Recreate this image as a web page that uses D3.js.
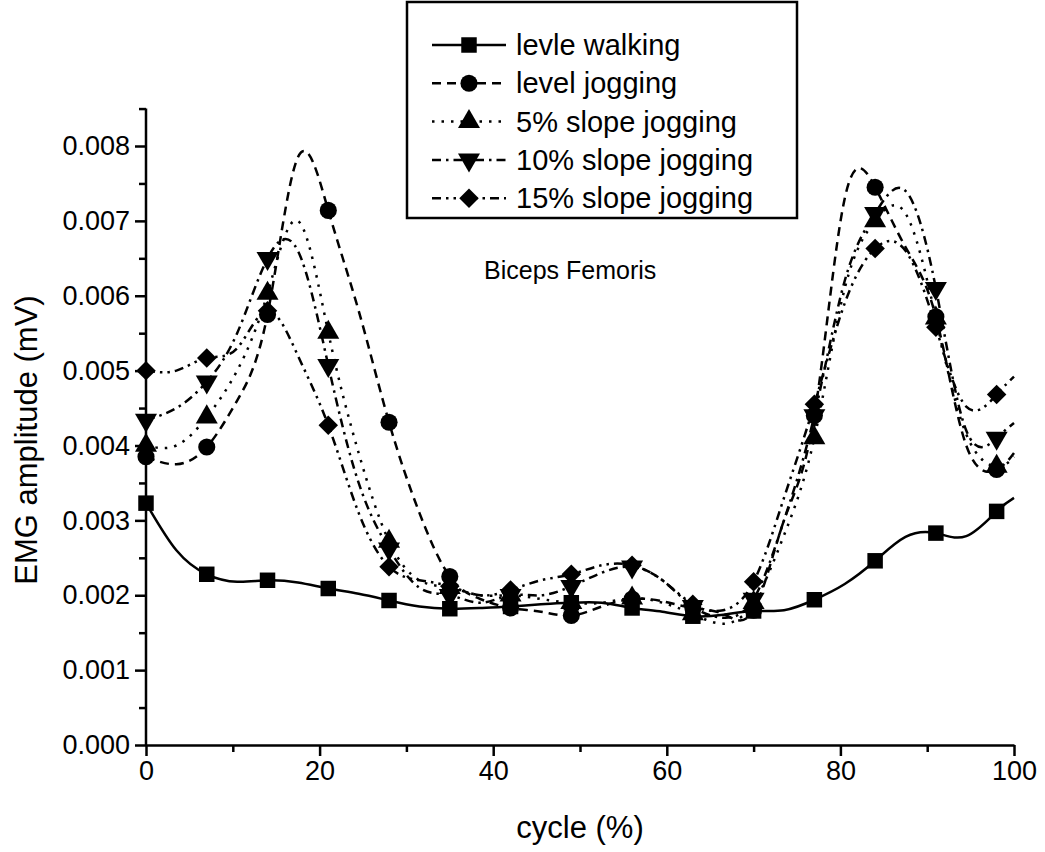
<!DOCTYPE html>
<html lang="en">
<head>
    <meta charset="UTF-8">
    <script src="https://d3js.org/d3.v7.min.js" charset="utf-8"></script>
    <title>Biceps Femoris</title>
    <style>
        body { margin: 0; background: #fff; }
        text { font-family: "Liberation Sans", Arial, sans-serif; fill: #000; }
    </style>
</head>
<body>
    <div id="chart"></div>
    <script>
        // data (cycle %, EMG amplitude in mV)
        // lines are sampled every 3.5 %, symbols sit on every 7 %
        const cycle = [0, 3.5, 7, 10.5, 14, 17.5, 21, 24.5, 28, 31.5, 35, 38.5, 42, 45.5, 49, 52.5, 56, 59.5, 63, 66.5, 70, 73.5, 77, 80.5, 84, 87.5, 91, 94.5, 98, 100];
        const levelWalking = [0.00323, 0.00260, 0.00228, 0.00218, 0.00220, 0.00217, 0.00209, 0.00202, 0.00193, 0.00185, 0.00182, 0.00183, 0.00185, 0.00188, 0.00190, 0.00190, 0.00183, 0.00178, 0.00172, 0.00174, 0.00179, 0.00180, 0.00194, 0.00215, 0.00246, 0.00278, 0.00283, 0.00279, 0.00312, 0.00330];
        const levelJogging = [0.00385, 0.00375, 0.00398, 0.00460, 0.00575, 0.00785, 0.00714, 0.00580, 0.00431, 0.00310, 0.00225, 0.00195, 0.00183, 0.00178, 0.00173, 0.00185, 0.00195, 0.00192, 0.00183, 0.00175, 0.00180, 0.00300, 0.00440, 0.00730, 0.00745, 0.00665, 0.00572, 0.00400, 0.00368, 0.00390];
        const slope5 = [0.00400, 0.00400, 0.00438, 0.00500, 0.00603, 0.00700, 0.00551, 0.00390, 0.00272, 0.00220, 0.00210, 0.00200, 0.00200, 0.00195, 0.00190, 0.00190, 0.00196, 0.00190, 0.00175, 0.00162, 0.00190, 0.00280, 0.00410, 0.00610, 0.00700, 0.00710, 0.00570, 0.00415, 0.00372, 0.00385];
        const slope10 = [0.00434, 0.00450, 0.00485, 0.00550, 0.00650, 0.00660, 0.00507, 0.00350, 0.00262, 0.00210, 0.00200, 0.00190, 0.00200, 0.00200, 0.00212, 0.00230, 0.00238, 0.00220, 0.00185, 0.00170, 0.00195, 0.00300, 0.00440, 0.00620, 0.00710, 0.00740, 0.00610, 0.00420, 0.00410, 0.00430];
        const slope15 = [0.00500, 0.00500, 0.00517, 0.00530, 0.00580, 0.00520, 0.00427, 0.00310, 0.00238, 0.00220, 0.00212, 0.00200, 0.00207, 0.00220, 0.00228, 0.00240, 0.00240, 0.00220, 0.00188, 0.00180, 0.00218, 0.00330, 0.00455, 0.00590, 0.00663, 0.00660, 0.00558, 0.00452, 0.00468, 0.00492];
        const seriesNames = ["levle walking", "level jogging", "5% slope jogging", "10% slope jogging", "15% slope jogging"];
        const xTicks = [0, 20, 40, 60, 80, 100];
        const yTicks = [0, 0.001, 0.002, 0.003, 0.004, 0.005, 0.006, 0.007, 0.008];

        const width = 1045, height = 852;
        const margin = { left: 146, right: 31, bottom: 107 };

        const x = d3.scaleLinear().domain([0, 100]).range([margin.left, width - margin.right]);
        const y = d3.scaleLinear().domain([0, 0.008]).range([height - margin.bottom, 146]);

        const svg = d3.select("#chart").append("svg")
            .attr("width", width)
            .attr("height", height);

        const styles = [
            { values: levelWalking, dash: null, symbol: d3.symbolSquare, size: 240, rotate: 0 },
            { values: levelJogging, dash: "9,6", symbol: d3.symbolCircle, size: 230, rotate: 0 },
            { values: slope5, dash: "2.5,7", symbol: d3.symbolTriangle, size: 210, rotate: 0 },
            { values: slope10, dash: "9,5,2.5,5", symbol: d3.symbolTriangle, size: 210, rotate: 180 },
            { values: slope15, dash: "9,5,2.5,5,2.5,5", symbol: d3.symbolSquare, size: 190, rotate: 45 }
        ];

        const line = d3.line()
            .x(d => x(d[0]))
            .y(d => y(d[1]))
            .curve(d3.curveNatural);

        // axes
        const xAxis = d3.axisBottom(x).tickValues(d3.range(0, 101, 10))
            .tickFormat(d => xTicks.includes(d) ? d : "").tickSizeOuter(0);
        const gx = svg.append("g").attr("transform", `translate(0,${y(0)})`).call(xAxis);
        gx.selectAll(".tick line").attr("y2", d => xTicks.includes(d) ? 11 : 7);
        gx.selectAll(".tick text").attr("y", 16).style("font-size", "27px");

        const yAxis = d3.axisLeft(y).tickValues(d3.range(0, 0.0086, 0.0005))
            .tickFormat(d => yTicks.some(t => Math.abs(t - d) < 1e-9) ? d3.format(".3f")(d) : "")
            .tickSizeOuter(0);
        const gy = svg.append("g").attr("transform", `translate(${x(0)},0)`).call(yAxis);
        gy.selectAll(".tick line").attr("x2", (d, i) => i % 2 === 0 ? -11 : -7);
        gy.selectAll(".tick text").attr("x", -16).style("font-size", "27px");
        gy.select(".domain").attr("d", `M0,${y(0)}V${y(0.0085)}`);

        svg.selectAll(".domain, .tick line").attr("stroke", "#000").attr("stroke-width", 2.5);
        svg.selectAll(".tick text").attr("fill", "#000").style("font-family", "Liberation Sans, Arial, sans-serif");

        // axis titles
        svg.append("text")
            .attr("x", x(50)).attr("y", 838)
            .attr("text-anchor", "middle")
            .style("font-size", "31px")
            .text("cycle (%)");
        svg.append("text")
            .attr("transform", `translate(37,${440}) rotate(-90)`)
            .attr("text-anchor", "middle")
            .style("font-size", "31px")
            .text("EMG amplitude (mV)");

        // series
        styles.forEach(s => {
            const pts = cycle.map((c, i) => [c, s.values[i]]);
            svg.append("path")
                .datum(pts)
                .attr("fill", "none")
                .attr("stroke", "#000")
                .attr("stroke-width", 2.5)
                .attr("stroke-dasharray", s.dash)
                .attr("d", line);
            svg.append("g").selectAll("path")
                .data(pts.filter(p => p[0] % 7 === 0))
                .enter()
                .append("path")
                .attr("d", d3.symbol().type(s.symbol).size(s.size))
                .attr("transform", d => `translate(${x(d[0])},${y(d[1])}) rotate(${s.rotate})`)
                .attr("fill", "#000");
        });

        // annotation
        svg.append("text")
            .attr("x", 484).attr("y", 279)
            .style("font-size", "25px")
            .text("Biceps Femoris");

        // legend
        const legend = svg.append("g");
        legend.append("rect")
            .attr("x", 407).attr("y", 2)
            .attr("width", 390).attr("height", 216)
            .attr("fill", "#fff")
            .attr("stroke", "#000")
            .attr("stroke-width", 2.5);
        styles.forEach((s, i) => {
            const ly = 45 + i * 38.3;
            legend.append("line")
                .attr("x1", 432).attr("x2", 506)
                .attr("y1", ly).attr("y2", ly)
                .attr("stroke", "#000")
                .attr("stroke-width", 2.5)
                .attr("stroke-dasharray", s.dash);
            legend.append("path")
                .attr("d", d3.symbol().type(s.symbol).size(s.size))
                .attr("transform", `translate(469,${ly}) rotate(${s.rotate})`)
                .attr("fill", "#000");
            legend.append("text")
                .attr("x", 516).attr("y", ly + 10)
                .style("font-size", "29px")
                .text(seriesNames[i]);
        });
    </script>
</body>
</html>
